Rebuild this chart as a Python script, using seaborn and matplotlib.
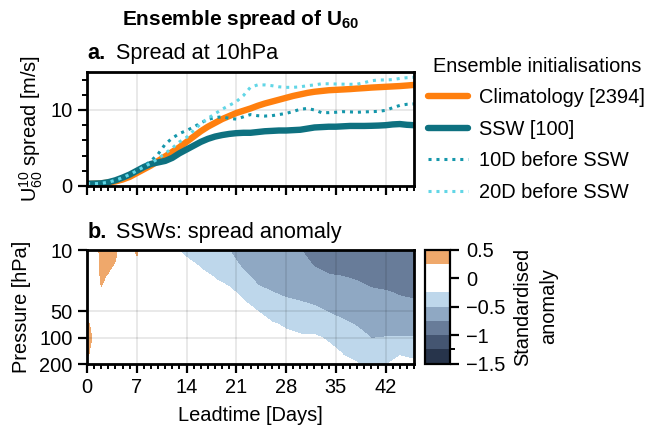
import numpy as np
import matplotlib
matplotlib.use("Agg")
import matplotlib.pyplot as plt
import seaborn as sns
from matplotlib.colors import ListedColormap, BoundaryNorm
from matplotlib.lines import Line2D
from matplotlib.ticker import MultipleLocator, FixedLocator, NullLocator, ScalarFormatter

# =====================
# DATA: panel a (spread at 10 hPa, m/s)
# =====================
days = list(range(47))
climatology = [0.25, 0.3, 0.35, 0.45, 0.6, 0.85, 1.2, 1.7, 2.2, 2.7, 3.3, 3.9, 4.5, 5.1, 5.8,
               6.5, 7.2, 7.8, 8.3, 8.8, 9.2, 9.6, 9.9, 10.2, 10.55, 10.85, 11.1, 11.35, 11.6,
               11.85, 12.05, 12.25, 12.4, 12.5, 12.6, 12.65, 12.7, 12.75, 12.82, 12.88, 12.95,
               13.0, 13.05, 13.1, 13.15, 13.22, 13.3]
ssw = [0.3, 0.32, 0.35, 0.5, 0.75, 1.1, 1.5, 2.0, 2.5, 2.9, 3.1, 3.3, 3.7, 4.3, 4.8, 5.3, 5.8,
       6.2, 6.5, 6.7, 6.85, 6.95, 7.0, 7.0, 7.1, 7.2, 7.25, 7.3, 7.3, 7.35, 7.4, 7.55, 7.7,
       7.75, 7.8, 7.8, 7.85, 7.9, 7.9, 7.9, 7.92, 7.95, 8.0, 8.1, 8.15, 8.05, 8.0]
before_10d = [0.3, 0.3, 0.35, 0.5, 0.75, 1.1, 1.5, 2.0, 2.6, 3.3, 4.2, 5.5, 6.3, 6.9, 7.3, 7.75,
              8.3, 8.75, 9.0, 9.1, 8.9, 8.8, 9.1, 9.4, 9.25, 9.2, 9.25, 9.4, 9.55, 9.8, 10.1,
              10.2, 10.0, 9.65, 9.65, 9.7, 9.78, 9.75, 9.7, 9.75, 9.78, 9.82, 9.95, 10.3, 10.6,
              10.75, 10.8]
before_20d = [0.3, 0.3, 0.35, 0.5, 0.75, 1.1, 1.5, 2.0, 2.5, 3.0, 3.6, 4.3, 5.0, 5.8, 6.4, 7.3,
              8.2, 8.9, 9.5, 10.1, 10.6, 11.1, 11.9, 13.0, 13.3, 13.3, 13.2, 13.05, 12.98, 12.98,
              13.05, 13.2, 13.3, 13.45, 13.45, 13.42, 13.4, 13.38, 13.4, 13.6, 13.85, 13.95,
              13.95, 14.0, 14.15, 14.25, 14.3]
labels = ["Climatology [2394]", "SSW [100]", "10D before SSW", "20D before SSW"]

# =====================
# DATA: panel b (standardised spread anomaly, leadtime x pressure)
# =====================
lead_days = [0, 1, 2, 3, 4, 5, 6, 7, 8, 10, 12, 14, 16, 18, 20, 22, 24, 26, 28, 30, 32, 34,
             36, 38, 40, 42, 44, 46]
pressure = [10, 15, 20, 30, 50, 70, 100, 150, 200]
anom_10 = [0, 0.05, 0.35, 0.35, 0.3, 0.1, 0.1, 0.3, 0.1, -0.05, -0.2, -0.33, -0.46, -0.45,
           -0.5, -0.68, -0.7, -0.72, -0.74, -0.745, -0.83, -0.91, -0.93, -0.95, -0.98, -0.98,
           -0.98, -0.98]
anom_15 = [0, 0.03, 0.32, 0.3, 0.22, 0.05, 0.05, 0.15, 0.05, -0.02, -0.12, -0.15, -0.28, -0.33,
           -0.39, -0.54, -0.62, -0.65, -0.67, -0.68, -0.76, -0.81, -0.82, -0.85, -0.89, -0.9,
           -0.92, -0.92]
anom_20 = [0, 0, 0.3, 0.22, 0.12, 0, 0, 0.05, 0, 0, -0.06, -0.05, -0.16, -0.27, -0.32, -0.445,
           -0.56, -0.59, -0.61, -0.63, -0.67, -0.733, -0.75, -0.77, -0.82, -0.83, -0.86, -0.87]
anom_30 = [0, 0, 0.22, 0.1, 0.05, 0, 0, 0, 0, 0, 0, 0, -0.05, -0.12, -0.21, -0.31, -0.44, -0.5,
           -0.54, -0.55, -0.585, -0.635, -0.66, -0.687, -0.72, -0.74, -0.77, -0.79]
anom_50 = [0.12, 0.02, 0.05, 0, 0, 0, 0, 0, 0, 0, 0, 0, 0, -0.03, -0.1, -0.15, -0.25, -0.34,
           -0.38, -0.43, -0.456, -0.512, -0.546, -0.584, -0.63, -0.646, -0.652, -0.66]
anom_70 = [0.3, 0.14, 0, 0, 0, 0, 0, 0, 0, 0, 0, 0, 0, 0, -0.05, -0.08, -0.15, -0.23, -0.28,
           -0.32, -0.336, -0.4, -0.466, -0.516, -0.57, -0.578, -0.576, -0.58]
anom_100 = [0.36, 0.2, 0, 0, 0, 0, 0, 0, 0, 0, 0, 0, 0, 0, 0, -0.03, -0.08, -0.15, -0.19,
            -0.22, -0.22, -0.28, -0.37, -0.425, -0.504, -0.495, -0.495, -0.495]
anom_150 = [0.3, 0.12, 0, 0, 0, 0, 0, 0, 0, 0, 0, 0, 0, 0, 0, 0, -0.03, -0.08, -0.1, -0.13,
            -0.13, -0.17, -0.26, -0.315, -0.44, -0.37, -0.28, -0.32]
anom_200 = [0.18, 0.02, 0, 0, 0, 0, 0, 0, 0, 0, 0, 0, 0, 0, 0, 0, 0, -0.03, -0.05, -0.08, -0.07,
            -0.1, -0.2, -0.237, -0.38, -0.27, -0.15, -0.19]
levels = [-1.5, -1.25, -1.0, -0.75, -0.5, -0.25, 0.25, 0.5]
level_colors = ["#27344b", "#445571", "#687c99", "#8fa8c3", "#bed7eb", "#ffffff", "#efa86b"]

# =====================
# STYLE
# =====================
sns.set_style("ticks")
plt.rcParams["font.family"] = ["Liberation Sans", "DejaVu Sans"]
plt.rcParams["mathtext.fontset"] = "custom"
plt.rcParams["mathtext.rm"] = "Liberation Sans"
plt.rcParams["mathtext.it"] = "Liberation Sans:italic"
plt.rcParams["mathtext.bf"] = "Liberation Sans:bold"
for key in ("text.color", "axes.labelcolor", "xtick.color", "ytick.color", "axes.edgecolor"):
    plt.rcParams[key] = "black"
fs = 7.2

fig = plt.figure(figsize=(3.24, 2.125), dpi=200)
ax1 = fig.add_axes([0.1343, 0.5624, 0.5046, 0.2682])
ax2 = fig.add_axes([0.1343, 0.1435, 0.5046, 0.2682])
cax = fig.add_axes([0.6559, 0.1447, 0.0386, 0.2682])

# =====================
# PANEL a
# =====================
dot = (0, (1, 1.6))
sns.lineplot(x=days, y=climatology, ax=ax1, color="#ff7f0e", lw=2.3, legend=False)
sns.lineplot(x=days, y=ssw, ax=ax1, color="#0e7180", lw=2.3, legend=False)
sns.lineplot(x=days, y=before_10d, ax=ax1, color="#1597ab", lw=1.1, ls=dot, legend=False)
sns.lineplot(x=days, y=before_20d, ax=ax1, color="#62d6e6", lw=1.1, ls=dot, legend=False)
ax1.set_xlim(0, 46)
ax1.set_ylim(0, 15)
ax1.set_yticks([0, 10])
ax1.yaxis.set_minor_locator(FixedLocator([2, 4, 6, 8, 12, 14]))
ax1.set_ylabel(r"U$\mathregular{^{10}_{60}}$ spread [m/s]", fontsize=fs, labelpad=2)
ax1.tick_params(axis="x", labelbottom=False)

# =====================
# PANEL b
# =====================
Z = np.array([anom_10, anom_15, anom_20, anom_30, anom_50, anom_70, anom_100, anom_150, anom_200])
cmap = ListedColormap(level_colors)
norm = BoundaryNorm(levels, cmap.N)
cf = ax2.contourf(lead_days, pressure, Z, levels=levels, cmap=cmap, norm=norm, zorder=1)
ax2.set_yscale("log")
ax2.set_ylim(200, 10)
ax2.set_xlim(0, 46)
ax2.set_yticks([10, 50, 100, 200])
ax2.yaxis.set_major_formatter(ScalarFormatter())
ax2.yaxis.set_minor_locator(NullLocator())
ax2.set_ylabel("Pressure [hPa]", fontsize=fs, labelpad=3)
ax2.set_xlabel("Leadtime [Days]", fontsize=fs, labelpad=3)

for ax in (ax1, ax2):
    ax.set_xticks(range(0, 43, 7))
    ax.xaxis.set_minor_locator(MultipleLocator(1))
    ax.grid(True, which="major", color="black", alpha=0.1, lw=0.6)
    ax.set_axisbelow("line")
    for s in ax.spines.values():
        s.set_linewidth(1.0)
        s.set_color("black")
    ax.tick_params(which="major", length=3.2, width=0.8, labelsize=fs, pad=2, color="black")
    ax.tick_params(which="minor", length=1.8, width=0.7, color="black")

# colorbar
cb = fig.colorbar(cf, cax=cax, spacing="proportional", ticks=[0.5, 0, -0.5, -1, -1.5])
cb.ax.set_yticklabels(["0.5", "0", "\u22120.5", "\u22121", "\u22121.5"])
cb.ax.yaxis.set_minor_locator(FixedLocator([-1.25]))
cb.ax.tick_params(which="major", length=3.2, width=0.8, labelsize=fs, pad=2.5)
cb.ax.tick_params(which="minor", length=1.8, width=0.7)
cb.outline.set_linewidth(0.8)
cb.set_label("Standardised\nanomaly", fontsize=fs, labelpad=3, linespacing=1.45)

# =====================
# TITLES & LEGEND
# =====================
for ax, tag, txt in ((ax1, "a.", "Spread at 10hPa"), (ax2, "b.", "SSWs: spread anomaly")):
    ax.annotate(tag, xy=(0, 1), xycoords="axes fraction", xytext=(0.3, 4.5),
                textcoords="offset points", fontsize=fs + 0.6, weight="bold", va="baseline")
    ax.annotate(txt, xy=(0, 1), xycoords="axes fraction", xytext=(10.5, 4.5),
                textcoords="offset points", fontsize=fs + 0.6, va="baseline")

fig.text(0.371, 0.941, r"Ensemble spread of U$\mathregular{_{60}}$", fontsize=7.5,
         weight="bold", ha="center", va="baseline")

handles = [
    Line2D([], [], color="#ff7f0e", lw=2.3),
    Line2D([], [], color="#0e7180", lw=2.3),
    Line2D([], [], color="#1597ab", lw=1.1, ls=dot),
    Line2D([], [], color="#62d6e6", lw=1.1, ls=dot),
]
fig.legend(handles, labels, title="Ensemble initialisations", loc="upper left",
           bbox_to_anchor=(0.661, 0.866), frameon=False, fontsize=fs, title_fontsize=fs,
           handlelength=2.0, handletextpad=0.55, labelspacing=0.62, borderpad=0,
           borderaxespad=0)

fig.savefig("out.png", dpi=200)
